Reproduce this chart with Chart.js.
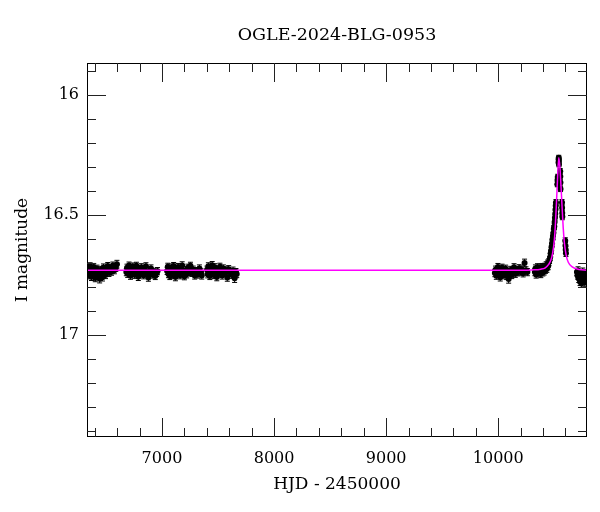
<!DOCTYPE html>
<html lang="en">
<head>
<meta charset="UTF-8" />
<title>OGLE-2024-BLG-0953</title>
<script src="https://cdn.jsdelivr.net/npm/chart.js@4"></script>
<style>
  body { margin: 0; background: #fff; }
  #wrap { width: 600px; height: 512px; }
</style>
</head>
<body>
<div id="wrap"><canvas id="lc" width="600" height="512"></canvas></div>
<script>
// OGLE photometry, one array per season: [HJD - 2450000, I mag, error]
const obs2013 = [
  [6336, 16.735, 0.015], [6342, 16.722, 0.015], [6348, 16.750, 0.016], [6353, 16.731, 0.015],
  [6359, 16.714, 0.015], [6365, 16.742, 0.015], [6371, 16.757, 0.016], [6378, 16.728, 0.015],
  [6384, 16.737, 0.015], [6391, 16.717, 0.015], [6398, 16.745, 0.015], [6405, 16.762, 0.016],
  [6412, 16.733, 0.015], [6420, 16.724, 0.015], [6428, 16.753, 0.015], [6436, 16.738, 0.015],
  [6444, 16.766, 0.017], [6452, 16.729, 0.015], [6460, 16.746, 0.015], [6469, 16.759, 0.016],
  [6478, 16.719, 0.015], [6487, 16.739, 0.015], [6496, 16.750, 0.015], [6506, 16.732, 0.015],
  [6516, 16.713, 0.015], [6527, 16.741, 0.015], [6538, 16.727, 0.015], [6550, 16.736, 0.015],
  [6562, 16.711, 0.015], [6575, 16.730, 0.015], [6588, 16.720, 0.015], [6598, 16.705, 0.016]
];
const obs2014 = [
  [6682, 16.738, 0.015], [6688, 16.720, 0.015], [6694, 16.745, 0.015], [6700, 16.729, 0.015],
  [6706, 16.711, 0.015], [6712, 16.736, 0.015], [6719, 16.753, 0.015], [6726, 16.724, 0.015],
  [6733, 16.740, 0.015], [6740, 16.715, 0.015], [6748, 16.733, 0.015], [6756, 16.749, 0.015],
  [6764, 16.726, 0.015], [6772, 16.712, 0.015], [6780, 16.739, 0.015], [6789, 16.757, 0.016],
  [6798, 16.728, 0.015], [6807, 16.743, 0.015], [6816, 16.718, 0.015], [6826, 16.735, 0.015],
  [6836, 16.751, 0.015], [6846, 16.731, 0.015], [6857, 16.714, 0.015], [6868, 16.742, 0.015],
  [6879, 16.760, 0.016], [6890, 16.733, 0.015], [6902, 16.723, 0.015], [6914, 16.748, 0.015],
  [6927, 16.737, 0.015], [6940, 16.754, 0.015], [6952, 16.741, 0.015], [6960, 16.734, 0.015]
];
const obs2015 = [
  [7046, 16.733, 0.015], [7052, 16.716, 0.015], [7058, 16.746, 0.015], [7064, 16.727, 0.015],
  [7070, 16.754, 0.015], [7077, 16.736, 0.015], [7083, 16.719, 0.015], [7090, 16.749, 0.015],
  [7097, 16.731, 0.015], [7104, 16.713, 0.015], [7112, 16.740, 0.015], [7120, 16.758, 0.016],
  [7128, 16.729, 0.015], [7136, 16.743, 0.015], [7144, 16.717, 0.015], [7153, 16.735, 0.015],
  [7162, 16.751, 0.015], [7171, 16.726, 0.015], [7180, 16.710, 0.015], [7190, 16.738, 0.015],
  [7200, 16.755, 0.015], [7210, 16.731, 0.015], [7220, 16.747, 0.015], [7231, 16.720, 0.015],
  [7242, 16.737, 0.015], [7254, 16.712, 0.015], [7266, 16.741, 0.015], [7279, 16.728, 0.015],
  [7292, 16.752, 0.015], [7306, 16.734, 0.015], [7320, 16.748, 0.015], [7334, 16.723, 0.015],
  [7348, 16.739, 0.015], [7355, 16.752, 0.015]
];
const obs2016 = [
  [7402, 16.728, 0.015], [7408, 16.747, 0.015], [7414, 16.714, 0.015], [7420, 16.739, 0.015],
  [7427, 16.754, 0.015], [7434, 16.724, 0.015], [7441, 16.741, 0.015], [7448, 16.709, 0.015],
  [7456, 16.733, 0.015], [7464, 16.750, 0.015], [7472, 16.718, 0.015], [7480, 16.737, 0.015],
  [7489, 16.758, 0.016], [7498, 16.729, 0.015], [7507, 16.744, 0.015], [7517, 16.716, 0.015],
  [7527, 16.735, 0.015], [7537, 16.752, 0.015], [7548, 16.723, 0.015], [7559, 16.742, 0.015],
  [7571, 16.731, 0.015], [7583, 16.760, 0.016], [7595, 16.726, 0.015], [7608, 16.740, 0.015],
  [7621, 16.749, 0.015], [7634, 16.732, 0.015], [7648, 16.764, 0.017], [7660, 16.738, 0.015],
  [7667, 16.746, 0.015]
];
const obs2023 = [
  [9970, 16.742, 0.015], [9976, 16.728, 0.015], [9983, 16.753, 0.015], [9990, 16.735, 0.015],
  [9997, 16.717, 0.015], [10004, 16.746, 0.015], [10011, 16.731, 0.015], [10018, 16.759, 0.016],
  [10026, 16.738, 0.015], [10034, 16.720, 0.015], [10042, 16.751, 0.015], [10050, 16.733, 0.015],
  [10058, 16.744, 0.015], [10066, 16.724, 0.015], [10075, 16.754, 0.015], [10084, 16.737, 0.015],
  [10093, 16.767, 0.017], [10102, 16.741, 0.015], [10111, 16.729, 0.015], [10121, 16.750, 0.015],
  [10131, 16.734, 0.015], [10141, 16.718, 0.015], [10152, 16.745, 0.015], [10163, 16.731, 0.015],
  [10174, 16.739, 0.015], [10186, 16.722, 0.015], [10198, 16.736, 0.015], [10210, 16.727, 0.015],
  [10222, 16.743, 0.015], [10235, 16.700, 0.016], [10248, 16.731, 0.015], [10260, 16.738, 0.015]
];
const obs2024 = [
  [10327, 16.738, 0.015], [10332, 16.723, 0.015], [10338, 16.748, 0.015], [10344, 16.731, 0.015],
  [10350, 16.718, 0.015], [10356, 16.743, 0.015], [10362, 16.729, 0.015], [10368, 16.737, 0.015],
  [10374, 16.720, 0.015], [10380, 16.746, 0.015], [10386, 16.730, 0.015], [10392, 16.717, 0.015],
  [10398, 16.739, 0.015], [10404, 16.726, 0.015], [10410, 16.735, 0.015], [10416, 16.716, 0.015],
  [10422, 16.728, 0.015], [10428, 16.710, 0.015], [10434, 16.724, 0.015], [10440, 16.703, 0.015],
  [10446, 16.713, 0.015], [10452, 16.696, 0.014], [10458, 16.688, 0.014], [10463, 16.676, 0.014],
  [10468, 16.660, 0.013], [10472, 16.648, 0.013], [10476, 16.632, 0.013], [10480, 16.618, 0.013],
  [10484, 16.601, 0.013], [10488, 16.588, 0.013], [10492, 16.575, 0.013], [10496, 16.558, 0.013],
  [10500, 16.548, 0.012], [10503, 16.530, 0.012], [10506, 16.512, 0.012], [10509, 16.495, 0.012],
  [10511, 16.478, 0.012], [10513, 16.462, 0.012], [10515, 16.448, 0.012], [10527, 16.372, 0.011],
  [10529, 16.355, 0.011], [10531, 16.342, 0.011], [10538, 16.282, 0.010], [10539, 16.268, 0.010],
  [10540, 16.262, 0.010], [10541, 16.275, 0.010], [10542, 16.290, 0.010], [10553, 16.318, 0.011],
  [10554, 16.340, 0.011], [10555, 16.365, 0.011], [10556, 16.392, 0.011], [10569, 16.448, 0.012],
  [10570, 16.470, 0.012], [10571, 16.492, 0.012], [10572, 16.508, 0.012], [10598, 16.608, 0.013],
  [10600, 16.628, 0.013], [10602, 16.645, 0.013], [10604, 16.660, 0.013]
];
const obs2025 = [
  [10702, 16.738, 0.015], [10707, 16.752, 0.015], [10712, 16.731, 0.015], [10718, 16.765, 0.016],
  [10724, 16.744, 0.015], [10730, 16.778, 0.016], [10736, 16.748, 0.015], [10742, 16.785, 0.017],
  [10748, 16.760, 0.015], [10754, 16.736, 0.015], [10760, 16.770, 0.016], [10766, 16.750, 0.015],
  [10772, 16.781, 0.016], [10778, 16.742, 0.015], [10784, 16.762, 0.015], [10790, 16.754, 0.015]
];

// microlensing model curve
const modelHJD = [6331, 10200, 10300, 10380, 10420, 10450, 10470, 10485, 10500, 10510, 10520,
                  10530, 10540, 10550, 10560, 10570, 10580, 10590, 10605, 10625, 10660, 10720, 10792];
const modelMag = [16.730, 16.730, 16.729, 16.726, 16.720, 16.706, 16.688, 16.660, 16.608, 16.540, 16.445,
                  16.340, 16.262, 16.300, 16.380, 16.470, 16.555, 16.615, 16.665, 16.697, 16.716, 16.727, 16.730];

const xTickValues = [7000, 8000, 9000, 10000];
const yTickValues = [16, 16.5, 17];
const xRange = [6331, 10792];
const yRange = [15.868, 17.424];

const seasons = [obs2013, obs2014, obs2015, obs2016, obs2023, obs2024, obs2025];
const obsPoints = seasons.flat().map(p => ({ x: p[0], y: p[1], err: p[2] }));
const modelPoints = modelHJD.map((t, i) => ({ x: t, y: modelMag[i] }));

const serif = 'DejaVu Serif';

const errorBars = {
  id: 'errorBars',
  beforeDatasetsDraw(chart) {
    const { ctx, chartArea: a, scales: { x, y } } = chart;
    ctx.save();
    ctx.beginPath();
    ctx.rect(a.left, a.top, a.right - a.left, a.bottom - a.top);
    ctx.clip();
    ctx.strokeStyle = '#000';
    ctx.lineWidth = 1;
    ctx.beginPath();
    obsPoints.forEach(p => {
      const px = x.getPixelForValue(p.x);
      const y1 = y.getPixelForValue(p.y - p.err);
      const y2 = y.getPixelForValue(p.y + p.err);
      ctx.moveTo(px, y1); ctx.lineTo(px, y2);
      ctx.moveTo(px - 2.5, y1); ctx.lineTo(px + 2.5, y1);
      ctx.moveTo(px - 2.5, y2); ctx.lineTo(px + 2.5, y2);
    });
    ctx.stroke();
    ctx.restore();
  }
};

// frame with inward ticks on all four sides
const frameTicks = {
  id: 'frameTicks',
  afterDraw(chart) {
    const { ctx, chartArea: a, scales: { x, y } } = chart;
    ctx.save();
    ctx.strokeStyle = '#000';
    ctx.lineWidth = 1;
    ctx.strokeRect(a.left + 0.5, a.top + 0.5, a.right - a.left - 1, a.bottom - a.top - 1);
    ctx.strokeStyle = '#222';
    ctx.beginPath();
    for (let v = 6400; v <= xRange[1]; v += 200) {
      const px = Math.round(x.getPixelForValue(v)) + 0.5;
      const len = v % 1000 === 0 ? 19 : 9;
      ctx.moveTo(px, a.bottom); ctx.lineTo(px, a.bottom - len);
      ctx.moveTo(px, a.top); ctx.lineTo(px, a.top + len);
    }
    for (let k = 159; k <= 174; k++) {
      const py = Math.round(y.getPixelForValue(k / 10)) + 0.5;
      const len = k % 5 === 0 ? 19 : 9;
      ctx.moveTo(a.left, py); ctx.lineTo(a.left + len, py);
      ctx.moveTo(a.right, py); ctx.lineTo(a.right - len, py);
    }
    ctx.stroke();
    ctx.restore();
  }
};

new Chart(document.getElementById('lc'), {
  type: 'scatter',
  data: {
    datasets: [
      {
        label: 'model',
        type: 'line',
        data: modelPoints,
        borderColor: '#ff00ff',
        borderWidth: 1.5,
        pointRadius: 0,
        fill: false,
        cubicInterpolationMode: 'monotone',
        order: 0
      },
      {
        label: 'OGLE I',
        data: obsPoints,
        backgroundColor: '#000',
        borderColor: '#000',
        borderWidth: 0,
        pointRadius: 3,
        order: 1
      }
    ]
  },
  options: {
    responsive: false,
    animation: false,
    layout: { padding: { left: 0, right: 13, top: 0, bottom: 0 } },
    plugins: {
      legend: { display: false },
      tooltip: { enabled: false },
      title: {
        display: true,
        text: 'OGLE-2024-BLG-0953',
        fullSize: false,
        color: '#000',
        font: { family: serif, size: 17.5, weight: 'normal' },
        padding: { top: 25, bottom: 17 }
      }
    },
    scales: {
      x: {
        type: 'linear',
        min: xRange[0],
        max: xRange[1],
        afterBuildTicks: s => { s.ticks = xTickValues.map(v => ({ value: v })); },
        afterFit: s => { s.height = 75; },
        grid: { display: false, drawTicks: false },
        border: { display: false },
        ticks: {
          color: '#000',
          font: { family: serif, size: 16 },
          padding: 12,
          maxRotation: 0,
          autoSkip: false,
          callback: v => String(v)
        },
        title: {
          display: true,
          text: 'HJD - 2450000',
          color: '#000',
          font: { family: serif, size: 17 },
          padding: { top: 8, bottom: 17 }
        }
      },
      y: {
        type: 'linear',
        reverse: true,
        min: yRange[0],
        max: yRange[1],
        afterBuildTicks: s => { s.ticks = yTickValues.map(v => ({ value: v })); },
        afterFit: s => { s.width = 87; },
        grid: { display: false, drawTicks: false },
        border: { display: false },
        ticks: {
          color: '#000',
          font: { family: serif, size: 16 },
          padding: 8,
          autoSkip: false,
          callback: v => String(v)
        },
        title: {
          display: true,
          text: 'I magnitude',
          color: '#000',
          font: { family: serif, size: 17 },
          padding: { top: 12, bottom: 0 }
        }
      }
    }
  },
  plugins: [errorBars, frameTicks]
});
</script>
</body>
</html>
